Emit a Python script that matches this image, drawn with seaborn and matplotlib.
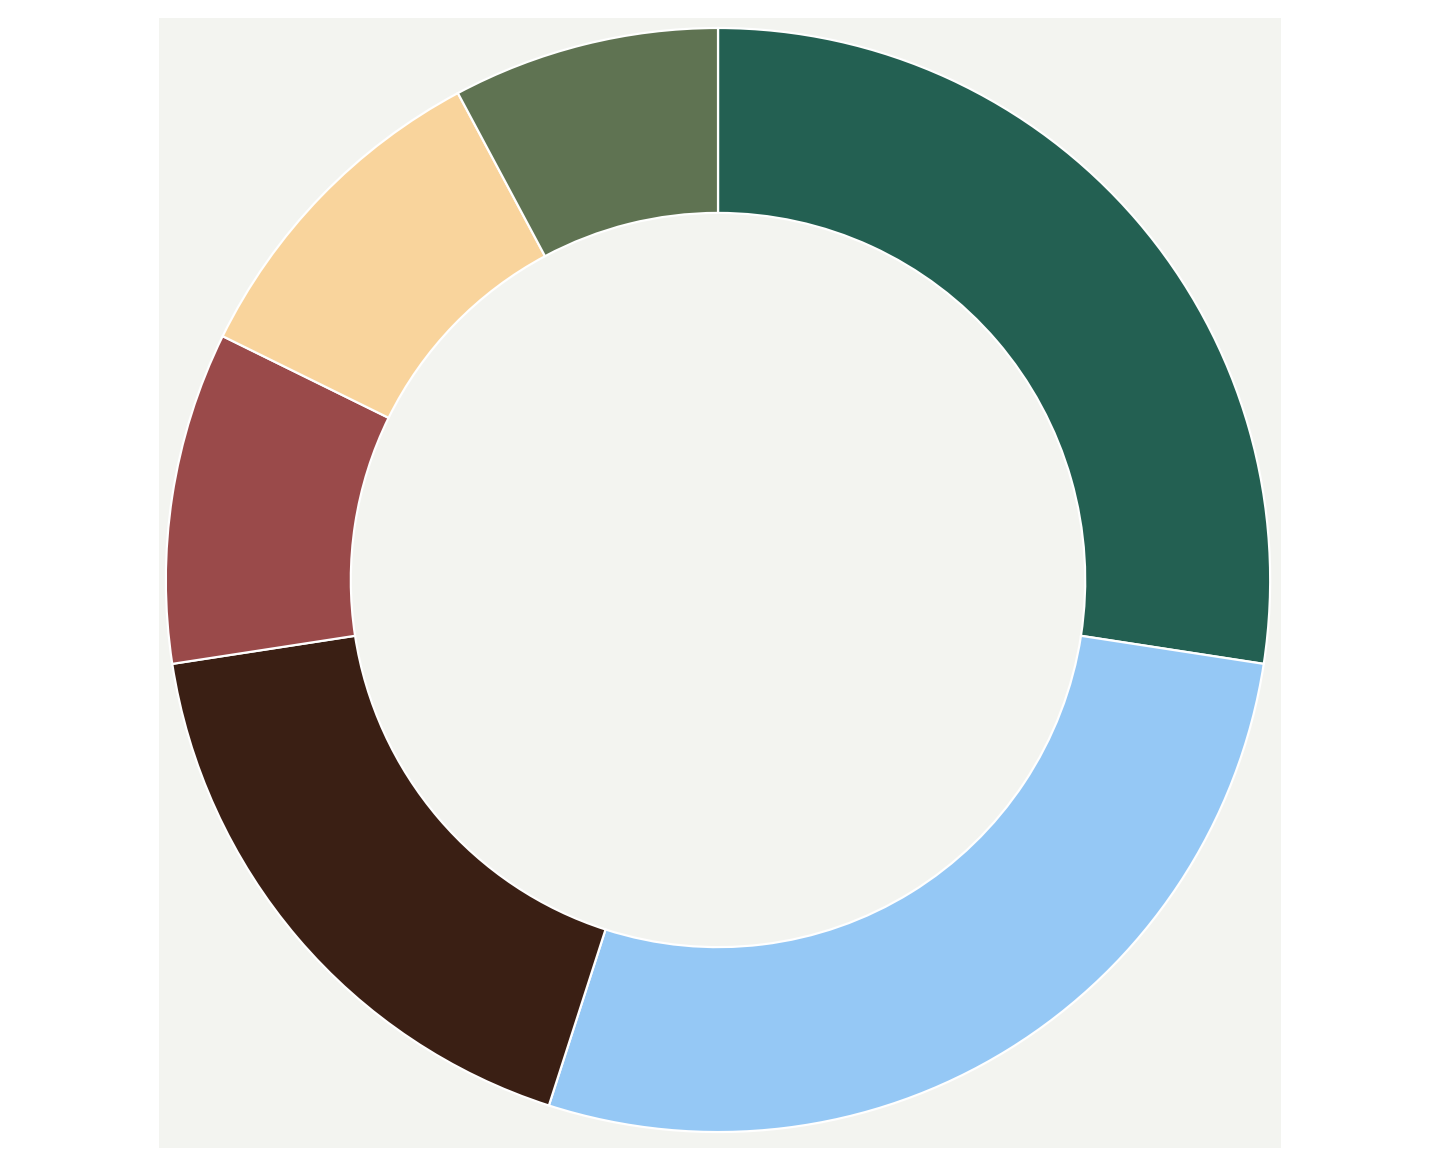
import matplotlib
matplotlib.use("Agg")
import matplotlib.pyplot as plt
import seaborn as sns

sns.set_theme(style="white")

labels = ["A", "B", "C", "D", "E", "F"]
values = [27.4, 27.5, 17.6, 9.7, 9.9, 7.8]
colors = ["#236052", "#95c8f5", "#3a1f14", "#9a4a4a", "#f9d49c", "#5f7352"]

fig = plt.figure(figsize=(14.4, 11.68), dpi=100)
fig.patch.set_facecolor("white")
ax = fig.add_axes([159/1440, 20/1168, 1122/1440, 1130/1168])
ax.set_facecolor("#f3f4f0")

ax.pie(values, colors=colors, startangle=90, counterclock=False,
       radius=1.0, center=(-0.0036, 0.0054), frame=True,
       wedgeprops=dict(width=0.335, edgecolor="white", linewidth=1.6))
ax.set_aspect("auto")
ax.set_xlim(-1.016, 1.016)
ax.set_ylim(-1.0235, 1.0235)
ax.set_xticks([])
ax.set_yticks([])
for s in ax.spines.values():
    s.set_visible(False)

fig.savefig("out.png", dpi=100, facecolor="white")
